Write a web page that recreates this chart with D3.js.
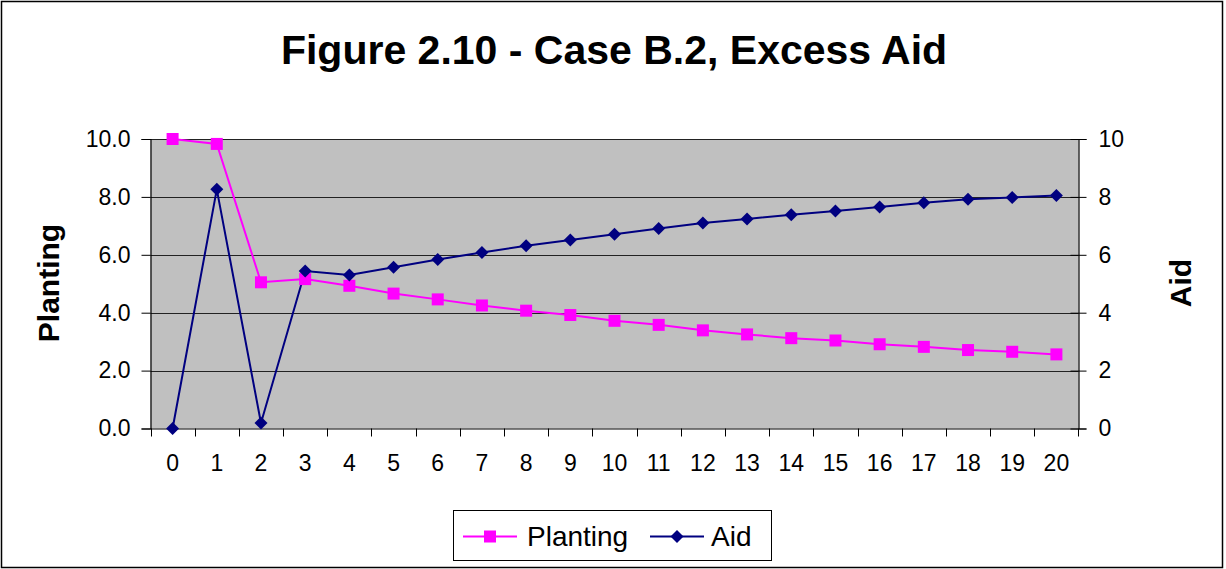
<!DOCTYPE html>
<html>
<head>
<meta charset="utf-8">
<script src="https://cdn.jsdelivr.net/npm/d3@7"></script>
<style>
  html, body { margin: 0; padding: 0; background: #fff; }
  svg { display: block; font-family: "Liberation Sans", Arial, sans-serif; }
</style>
</head>
<body>
<svg id="chart" width="1226" height="569"></svg>
<script>
// Periods 0..20
const periods = d3.range(0, 21).map(String);
// Planting (left axis)
const planting = [10.0, 9.83, 5.05, 5.16, 4.93, 4.66, 4.46, 4.25, 4.07, 3.92, 3.72,
                  3.58, 3.39, 3.25, 3.12, 3.04, 2.91, 2.82, 2.71, 2.65, 2.56];
// Aid (right axis)
const aid = [0.0, 8.26, 0.19, 5.44, 5.30, 5.57, 5.84, 6.08, 6.31, 6.51, 6.71,
             6.91, 7.10, 7.24, 7.38, 7.51, 7.65, 7.80, 7.92, 7.98, 8.05];
const leftTicks = [0, 2, 4, 6, 8, 10];
const rightTicks = [0, 2, 4, 6, 8, 10];

const title = "Figure 2.10 - Case B.2, Excess Aid";
const seriesNames = ["Planting", "Aid"];
const colors = { Planting: "#FF00FF", Aid: "#000080" };

const svg = d3.select("#chart");
const plot = { left: 150.5, right: 1078.5, top: 139, bottom: 428.5 };

// outer chart frame
svg.append("rect")
  .attr("x", 1.5).attr("y", 1.5)
  .attr("width", 1221).attr("height", 566)
  .attr("fill", "#fff").attr("stroke", "#000").attr("stroke-width", 1.5);

const x = d3.scaleBand().domain(periods).range([plot.left, plot.right]).padding(0);
const yL = d3.scaleLinear().domain([0, 10]).range([plot.bottom, plot.top]);
const yR = d3.scaleLinear().domain([0, 10]).range([plot.bottom, plot.top]);
const cx = d => x(d) + x.bandwidth() / 2;

// plot background
svg.append("rect")
  .attr("x", plot.left).attr("y", plot.top)
  .attr("width", plot.right - plot.left).attr("height", plot.bottom - plot.top)
  .attr("fill", "#C0C0C0");

// horizontal gridlines
svg.append("g").selectAll("line").data(leftTicks.filter(t => t > 0)).join("line")
  .attr("x1", plot.left).attr("x2", plot.right)
  .attr("y1", d => Math.round(yL(d)) + 0.5).attr("y2", d => Math.round(yL(d)) + 0.5)
  .attr("stroke", "#222").attr("stroke-width", 1.2);

// left axis
const gL = svg.append("g").attr("transform", `translate(${plot.left},0)`)
  .call(d3.axisLeft(yL).tickValues(leftTicks).tickFormat(d3.format(".1f")).tickSize(9).tickPadding(11));
// right axis
const gR = svg.append("g").attr("transform", `translate(${plot.right},0)`)
  .call(d3.axisRight(yR).tickValues(rightTicks).tickFormat(d3.format("d")).tickSize(8).tickPadding(12));
gR.selectAll(".tick line").attr("x1", -8);
// bottom axis with ticks at category boundaries
const gB = svg.append("g").attr("transform", `translate(0,${plot.bottom})`)
  .call(d3.axisBottom(x).tickSize(0).tickPadding(26));
svg.append("g").selectAll("line").data(periods.concat(["end"])).join("line")
  .attr("x1", (d, i) => i < periods.length ? Math.round(x(d)) + 0.5 : plot.right)
  .attr("x2", (d, i) => i < periods.length ? Math.round(x(d)) + 0.5 : plot.right)
  .attr("y1", plot.bottom).attr("y2", plot.bottom + 8)
  .attr("stroke", "#000").attr("stroke-width", 1);

[gL, gR, gB].forEach(g => {
  g.selectAll(".domain").attr("stroke", "#000").attr("stroke-width", 1.2);
  g.selectAll(".tick line").attr("stroke", "#000");
  g.selectAll("text").attr("font-size", 23).attr("fill", "#000")
    .attr("font-family", "Liberation Sans, Arial, sans-serif");
});
gB.select(".domain").attr("d", `M${plot.left},0.5H${plot.right}`);

// series lines and markers
const linePlant = d3.line().x((d, i) => cx(periods[i])).y(d => yL(d));
const lineAid = d3.line().x((d, i) => cx(periods[i])).y(d => yR(d));

svg.append("path").datum(planting).attr("d", linePlant)
  .attr("fill", "none").attr("stroke", colors.Planting).attr("stroke-width", 2);
svg.append("path").datum(aid).attr("d", lineAid)
  .attr("fill", "none").attr("stroke", colors.Aid).attr("stroke-width", 2);

const sq = 12;
svg.append("g").selectAll("rect").data(planting).join("rect")
  .attr("x", (d, i) => cx(periods[i]) - sq / 2)
  .attr("y", d => yL(d) - sq / 2)
  .attr("width", sq).attr("height", sq)
  .attr("fill", colors.Planting);

const dm = 6.5;
const diamond = (px, py) => `M${px},${py - dm}L${px + dm},${py}L${px},${py + dm}L${px - dm},${py}Z`;
svg.append("g").selectAll("path").data(aid).join("path")
  .attr("d", (d, i) => diamond(cx(periods[i]), yR(d)))
  .attr("fill", colors.Aid);

// title
svg.append("text")
  .attr("x", 614).attr("y", 64)
  .attr("text-anchor", "middle")
  .attr("font-size", 41).attr("font-weight", "bold")
  .text(title);

// axis titles
svg.append("text")
  .attr("transform", "translate(59,283) rotate(-90)")
  .attr("text-anchor", "middle")
  .attr("font-size", 30).attr("font-weight", "bold")
  .text("Planting");
svg.append("text")
  .attr("transform", "translate(1191,283) rotate(-90)")
  .attr("text-anchor", "middle")
  .attr("font-size", 30).attr("font-weight", "bold")
  .text("Aid");

// legend
const lg = svg.append("g");
lg.append("rect")
  .attr("x", 453.5).attr("y", 510.5).attr("width", 318).attr("height", 50)
  .attr("fill", "#fff").attr("stroke", "#000").attr("stroke-width", 1);
const legendItems = [
  { name: seriesNames[0], x0: 463, x1: 517, tx: 527 },
  { name: seriesNames[1], x0: 650, x1: 704, tx: 711 }
];
const ly = 536.5;
legendItems.forEach(it => {
  lg.append("line").attr("x1", it.x0).attr("x2", it.x1).attr("y1", ly).attr("y2", ly)
    .attr("stroke", colors[it.name]).attr("stroke-width", 2);
  const mx = (it.x0 + it.x1) / 2;
  if (it.name === "Planting") {
    lg.append("rect").attr("x", mx - 6).attr("y", ly - 6).attr("width", 12).attr("height", 12)
      .attr("fill", colors[it.name]);
  } else {
    lg.append("path").attr("d", diamond(mx, ly)).attr("fill", colors[it.name]);
  }
  lg.append("text").attr("x", it.tx).attr("y", ly).attr("dy", "0.35em")
    .attr("font-size", 28).text(it.name);
});
</script>
</body>
</html>
